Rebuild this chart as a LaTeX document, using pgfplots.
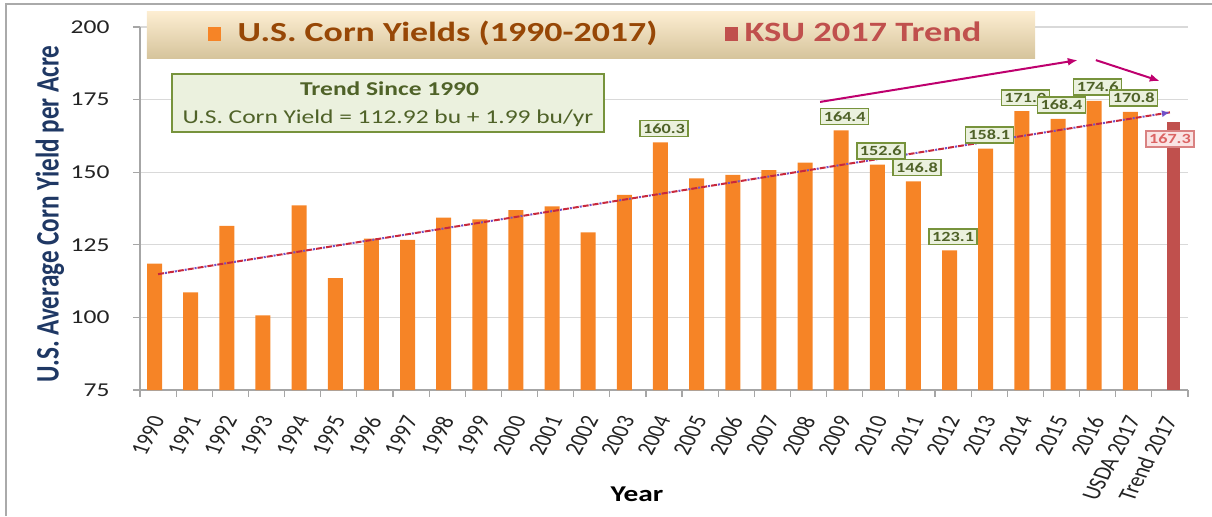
\documentclass[border=0pt]{standalone}
\usepackage{pgfplots}
\usepackage{pgfplotstable}
\pgfplotsset{compat=1.18}
\usepackage{fontspec}
\setmainfont{Carlito}
\usetikzlibrary{arrows.meta}
\definecolor{barOrange}{RGB}{246,132,38}
\definecolor{barRed}{RGB}{192,80,77}
\definecolor{legBrown}{RGB}{151,71,6}
\definecolor{navy}{RGB}{31,56,100}
\definecolor{lblFill}{RGB}{235,241,222}
\definecolor{lblBorder}{RGB}{119,147,60}
\definecolor{lblText}{RGB}{79,98,40}
\definecolor{pinkFill}{RGB}{250,228,228}
\definecolor{pinkBorder}{RGB}{217,130,130}
\definecolor{pinkText}{RGB}{220,100,100}
\definecolor{gridgray}{RGB}{217,217,217}
\definecolor{axisgray}{RGB}{166,166,166}
\definecolor{trendRed}{RGB}{200,40,60}
\definecolor{trendPurple}{RGB}{112,80,200}
\definecolor{arrowMag}{RGB}{190,0,110}
\definecolor{legTop}{RGB}{253,238,210}
\definecolor{legMid}{RGB}{242,234,214}
\definecolor{legBot}{RGB}{214,196,156}
\definecolor{frameGray}{RGB}{170,170,170}
\definecolor{tickText}{RGB}{35,35,35}

\pgfplotstableread{
x y
0 118.5
1 108.6
2 131.5
3 100.7
4 138.6
5 113.5
6 127.1
7 126.7
8 134.4
9 133.8
10 136.9
11 138.2
12 129.3
13 142.2
14 160.3
15 147.9
16 149.1
17 150.7
18 153.3
19 164.4
20 152.6
21 146.8
22 123.1
23 158.1
24 171.0
25 168.4
26 174.6
27 170.8
}\cornyields

\pgfplotstableread{
x y
14 160.3
19 164.4
20 152.6
21 146.8
22 123.1
23 158.1
24 171.0
25 168.4
26 174.6
27 170.8
}\labeled

\pgfplotstableread{
x y
28 167.3
}\ksutrend

\begin{document}
\begin{tikzpicture}
\useasboundingbox (-70pt,-63pt) rectangle (536pt,195pt);
\begin{axis}[
  at={(0,0)}, anchor=south west,
  scale only axis, width=524pt, height=181.5pt,
  xmin=-0.5, xmax=28.5, ymin=75, ymax=200,
  ytick={75,100,...,200},
  xtick={0,...,28},
  xticklabels={1990,1991,1992,1993,1994,1995,1996,1997,1998,1999,2000,2001,2002,2003,2004,2005,2006,2007,2008,2009,2010,2011,2012,2013,2014,2015,2016,USDA 2017,Trend 2017},
  minor xtick={-0.5,0.5,...,28.5},
  major x tick style={draw=none},
  minor x tick style={draw=axisgray, line width=0.6pt},
  major y tick style={draw=axisgray, line width=0.6pt},
  tick align=outside,
  major tick length=3.5pt, minor tick length=3.5pt,
  axis lines*=left,
  axis line style={draw=axisgray, line width=0.7pt},
  ymajorgrids, grid style={draw=gridgray, line width=0.6pt},
  /pgf/number format/assume math mode=true,
  yticklabel style={font=\fontsize{9.8}{11}\selectfont, text=tickText, xshift=-11.5pt, xscale=1.3, anchor=east, inner sep=0pt},
  xticklabel style={font=\fontsize{9.8}{11}\selectfont, text=tickText, yshift=-10pt, xscale=1.3, rotate=67.5, anchor=east, inner sep=0pt},
  every axis y label/.style={at={(axis description cs:-0.0859,0.485)}, anchor=center, xscale=1.3, rotate=90},
  every axis x label/.style={at={(axis description cs:0.4742,-0.288)}, anchor=center, xscale=1.3},
  ylabel={\fontsize{12.6}{14}\selectfont\bfseries\color{navy}U.S. Average Corn Yield per Acre},
  xlabel={\fontsize{11.3}{13}\selectfont\bfseries Year},
]
\addplot[ybar, bar width=7.5pt, bar shift=-1.75pt, fill=barOrange, draw=none] table[x=x,y=y] {\cornyields};
\addplot[ybar, bar width=6.5pt, bar shift=1.75pt, fill=barRed, draw=none] table[x=x,y=y] {\ksutrend};
\addplot[trendRed, line width=1pt, dash pattern=on 3pt off 2pt] coordinates {(0,114.9) (28,170.6)};
\addplot[trendPurple, line width=1pt, dash pattern=on 1pt off 4pt, dash phase=-3.5pt, -{Latex[length=4pt,width=3.5pt]}] coordinates {(0,114.9) (28,170.6)};
\addplot[arrowMag, line width=1pt, -{Latex[length=5pt,width=4pt]}] coordinates {(18.32,174.2) (25.45,188.6)};
\addplot[arrowMag, line width=1pt, -{Latex[length=5pt,width=4pt]}] coordinates {(25.95,188.6) (27.72,181.4)};
\addplot[ybar, bar width=7.5pt, bar shift=-1.75pt, draw=none, fill=none,
  nodes near coords={\pgfmathprintnumber[fixed,fixed zerofill,precision=1]{\pgfplotspointmeta}},
  every node near coord/.append style={font=\bfseries\fontsize{7}{8}\selectfont, text=lblText, fill=lblFill, draw=lblBorder, line width=0.7pt, inner xsep=1.2pt, inner ysep=1.6pt, anchor=south, yshift=2.5pt, xscale=1.3}
] table[x=x,y=y] {\labeled};
\addplot[ybar, bar width=6.5pt, bar shift=1.75pt, draw=none, fill=none,
  nodes near coords={\pgfmathprintnumber[fixed,fixed zerofill,precision=1]{\pgfplotspointmeta}},
  every node near coord/.append style={font=\bfseries\fontsize{7}{8}\selectfont, text=pinkText, fill=pinkFill, draw=pinkBorder, line width=0.7pt, inner xsep=1.2pt, inner ysep=1.6pt, anchor=center, yshift=-8.5pt, xscale=1.3}
] table[x=x,y=y] {\ksutrend};
\end{axis}
% frame
\draw[frameGray, line width=0.9pt] (-67pt,-63pt) -- (-67pt,193pt) -- (536pt,193pt);
% legend
\shade[top color=legTop, middle color=legMid, bottom color=legBot] (3.5pt,166pt) rectangle (447.5pt,189.5pt);
\fill[barOrange] (34pt,174.5pt) rectangle (40.5pt,181.5pt);
\node[anchor=base west, inner sep=0pt, xscale=1.3, font=\fontsize{13.8}{15}\selectfont\bfseries, text=legBrown] at (48.5pt,174.5pt) {U.S. Corn Yields (1990-2017)};
\fill[barRed] (292.5pt,174.5pt) rectangle (299pt,181.5pt);
\node[anchor=base west, inner sep=0pt, xscale=1.3, font=\fontsize{14}{15}\selectfont\bfseries, text=barRed] at (302pt,174.5pt) {KSU 2017 Trend};
% trend box
\draw[lblBorder, fill=lblFill, line width=0.75pt] (16pt,129pt) rectangle (232pt,158pt);
\node[anchor=base, inner sep=0pt, xscale=1.3, font=\fontsize{9.8}{11}\selectfont\bfseries, text=lblText] at (124.8pt,147.5pt) {Trend Since 1990};
\node[anchor=base, inner sep=0pt, xscale=1.3, font=\fontsize{9.8}{11}\selectfont, text=lblText] at (124pt,133.5pt) {U.S. Corn Yield = 112.92 bu + 1.99 bu/yr};
\end{tikzpicture}
\end{document}
